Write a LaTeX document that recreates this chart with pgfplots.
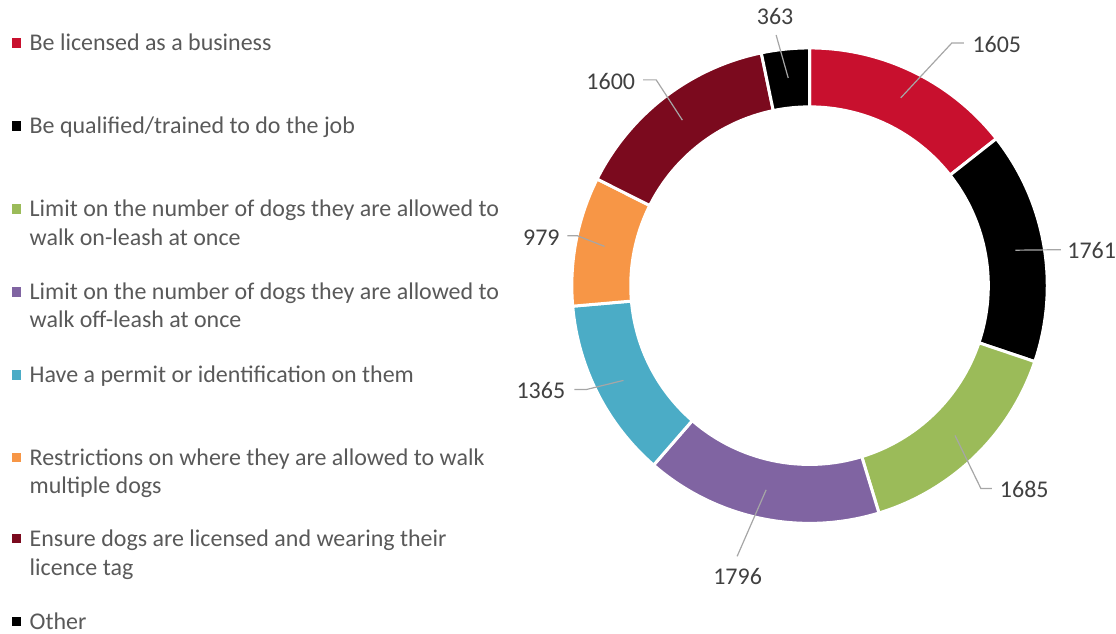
\documentclass[border=0pt]{standalone}
\usepackage{pgfplots}
\pgfplotsset{compat=1.18}
\usepackage{pgfplotstable}
\usepackage{fontspec}
\setmainfont{Carlito}

\definecolor{c0}{HTML}{C8102E}
\definecolor{c1}{HTML}{000000}
\definecolor{c2}{HTML}{9BBB59}
\definecolor{c3}{HTML}{8064A2}
\definecolor{c4}{HTML}{4BACC6}
\definecolor{c5}{HTML}{F79646}
\definecolor{c6}{HTML}{7B0A1E}
\definecolor{c7}{HTML}{000000}
\definecolor{legtext}{HTML}{595959}
\definecolor{labtext}{HTML}{404040}
\definecolor{leader}{HTML}{A6A6A6}

% value, leader knee (kx,ky), leader end (ex,ey), label centre (lx,ly)
% coordinates: 1 unit = 1pt, y measured up from the bottom
\pgfplotstableread{
val  kx   ky  ex   ey  lx     ly
1605 953  591 965  591 998    589
1761 1062 384 1062 384 1093   383
1685 982  145 993  145 1025.5 144
1796 738  77  738  77  738.5  57
1365 587  244 575  244 541.5  243
979  578  398 568  398 542    396
1600 657  554 644  554 611.5  552
363  777  599 777  599 776    617
}\donut

% donut geometry
\def\cx{810.5}\def\cy{348}\def\ro{238}\def\ri{179}\def\rmid{209}

% total and cumulative angles (clockwise from the top)
\def\tot{0}
\pgfplotstableforeachcolumnelement{val}\of\donut\as\val{%
  \pgfmathsetmacro\tot{\tot+\val}\xdef\tot{\tot}}
\newcommand\grab[1]{\pgfplotstablegetelem{\idx}{#1}\of\donut
  \expandafter\xdef\csname #1\idx\endcsname{\pgfplotsretval}}
\newcommand\keep[2]{\pgfmathsetmacro\tmp{#2}%
  \expandafter\xdef\csname #1\idx\endcsname{\tmp}}
\def\cum{0}
\pgfplotsforeachungrouped \idx in {0,...,7}{%
  \pgfplotstablegetelem{\idx}{val}\of\donut \let\val\pgfplotsretval
  \pgfmathsetmacro\angA{90-\cum/\tot*360}%
  \pgfmathsetmacro\cum{\cum+\val}\xdef\cum{\cum}%
  \pgfmathsetmacro\angB{90-\cum/\tot*360}%
  \pgfmathsetmacro\angM{(\angA+\angB)/2}%
  \expandafter\xdef\csname v\idx\endcsname{\val}%
  \expandafter\xdef\csname aa\idx\endcsname{\angA}%
  \expandafter\xdef\csname ab\idx\endcsname{\angB}%
  \keep{xo}{\cx+\ro*cos(\angA)}\keep{yo}{\cy+\ro*sin(\angA)}%
  \keep{xi}{\cx+\ri*cos(\angB)}\keep{yi}{\cy+\ri*sin(\angB)}%
  \keep{xm}{\cx+\rmid*cos(\angM)}\keep{ym}{\cy+\rmid*sin(\angM)}%
  \grab{kx}\grab{ky}\grab{ex}\grab{ey}\grab{lx}\grab{ly}%
}

\begin{document}
\begin{tikzpicture}[every node/.append style={font=\fontsize{24}{29}\selectfont}]
\begin{axis}[
    hide axis,
    scale only axis,
    width=1116pt, height=634pt,
    xmin=0, xmax=1116, ymin=0, ymax=634,
    clip=false,
]
\path (axis cs:0,0) rectangle (axis cs:1116,634);

% ring segments
\pgfplotsinvokeforeach{0,...,7}{
  \fill[c#1, draw=white, line width=3pt]
    (axis cs:\csname xo#1\endcsname,\csname yo#1\endcsname)
    arc[start angle=\csname aa#1\endcsname, end angle=\csname ab#1\endcsname, radius=238pt]
    -- (axis cs:\csname xi#1\endcsname,\csname yi#1\endcsname)
    arc[start angle=\csname ab#1\endcsname, end angle=\csname aa#1\endcsname, radius=179pt]
    -- cycle;
}
% leader lines and data labels
\pgfplotsinvokeforeach{0,...,7}{
  \draw[leader, line width=1.2pt]
    (axis cs:\csname xm#1\endcsname,\csname ym#1\endcsname)
    -- (axis cs:\csname kx#1\endcsname,\csname ky#1\endcsname)
    -- (axis cs:\csname ex#1\endcsname,\csname ey#1\endcsname);
  \node[text=labtext, inner sep=0pt] at (axis cs:\csname lx#1\endcsname,\csname ly#1\endcsname) {\csname v#1\endcsname};
}

% legend
\fill[c0] (axis cs:12,586) rectangle (axis cs:21.5,595.5);
\node[anchor=base west, text=legtext, inner sep=0pt] at (axis cs:29.5,583) {Be licensed as a business};
\fill[c1] (axis cs:12,503) rectangle (axis cs:21.5,512.5);
\node[anchor=base west, text=legtext, inner sep=0pt] at (axis cs:29.5,500) {Be qualified/trained to do the job};
\fill[c2] (axis cs:12,420) rectangle (axis cs:21.5,429.5);
\node[anchor=base west, text=legtext, inner sep=0pt] at (axis cs:29.5,417) {Limit on the number of dogs they are allowed to};
\node[anchor=base west, text=legtext, inner sep=0pt] at (axis cs:29.5,388) {walk on-leash at once};
\fill[c3] (axis cs:12,337) rectangle (axis cs:21.5,346.5);
\node[anchor=base west, text=legtext, inner sep=0pt] at (axis cs:29.5,334) {Limit on the number of dogs they are allowed to};
\node[anchor=base west, text=legtext, inner sep=0pt] at (axis cs:29.5,306) {walk off-leash at once};
\fill[c4] (axis cs:12,254) rectangle (axis cs:21.5,263.5);
\node[anchor=base west, text=legtext, inner sep=0pt] at (axis cs:29.5,251) {Have a permit or identification on them};
\fill[c5] (axis cs:12,171) rectangle (axis cs:21.5,180.5);
\node[anchor=base west, text=legtext, inner sep=0pt] at (axis cs:29.5,168) {Restrictions on where they are allowed to walk};
\node[anchor=base west, text=legtext, inner sep=0pt] at (axis cs:29.5,140) {multiple dogs};
\fill[c6] (axis cs:12,90) rectangle (axis cs:21.5,99.5);
\node[anchor=base west, text=legtext, inner sep=0pt] at (axis cs:29.5,87) {Ensure dogs are licensed and wearing their};
\node[anchor=base west, text=legtext, inner sep=0pt] at (axis cs:29.5,58) {licence tag};
\fill[c7] (axis cs:12,7) rectangle (axis cs:21.5,16.5);
\node[anchor=base west, text=legtext, inner sep=0pt] at (axis cs:29.5,4) {Other};
\end{axis}
\end{tikzpicture}
\end{document}
